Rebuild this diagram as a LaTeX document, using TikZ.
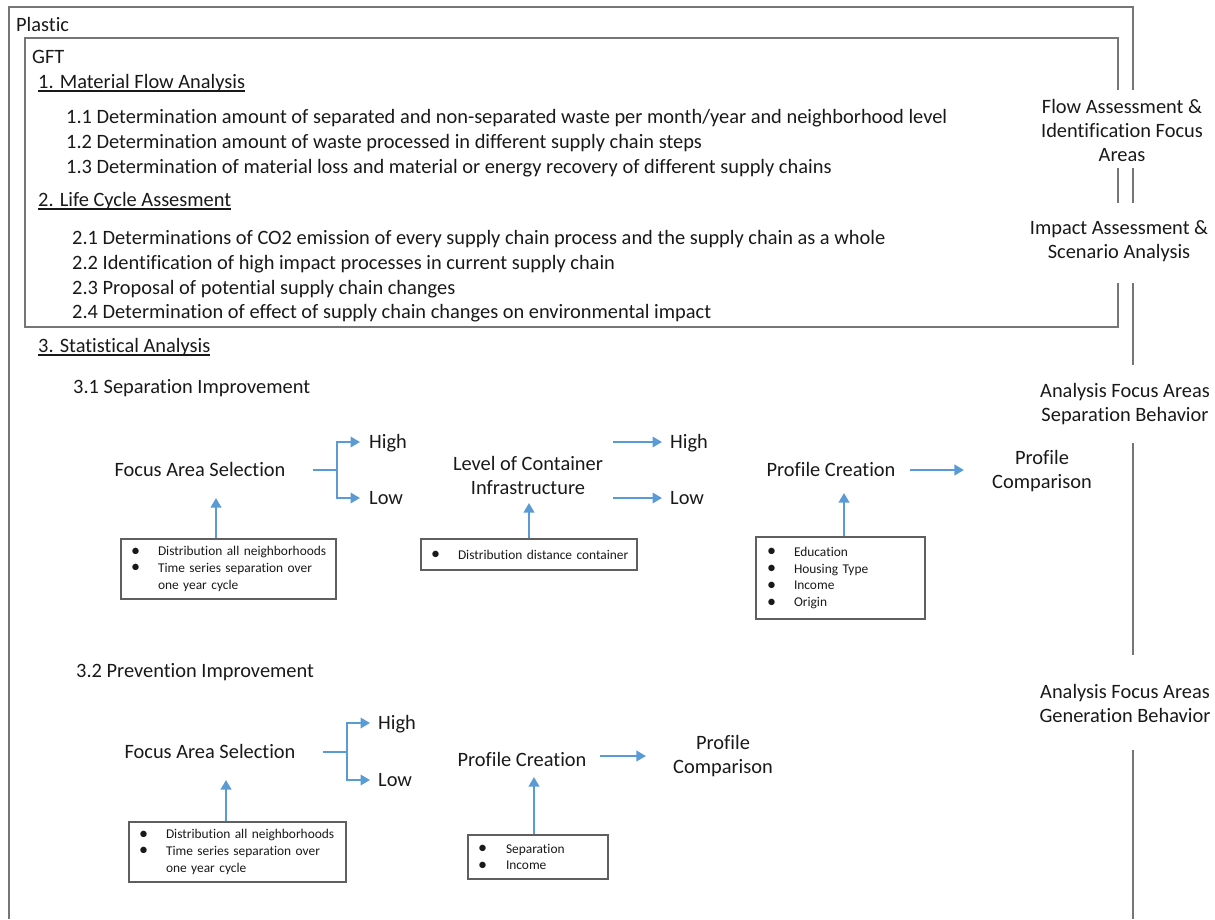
\documentclass[tikz,border=0pt]{standalone}
\usepackage{fontspec}
\setmainfont{Carlito}[Ligatures=NoCommon]
\usetikzlibrary{arrows.meta}
\definecolor{flowblue}{RGB}{91,155,213}
\definecolor{framegray}{RGB}{118,118,118}
\definecolor{boxgray}{RGB}{95,95,95}
\definecolor{ink}{RGB}{25,25,25}
% underline at a fixed depth below the baseline
\newcommand\ulinetext[1]{\setbox0\hbox{#1}\rlap{\rule[-3pt]{\wd0}{1.1pt}}\box0}
% one bulleted line, and its unbulleted continuation
\newcommand\bigbul{\raisebox{-0.3pt}{\scalebox{1.35}{\textbullet}}}
\newcommand\bul[1]{\mbox{\makebox[27pt][l]{\bigbul}#1}}
\newcommand\nobul[1]{\mbox{\hspace*{27pt}#1}}
\tikzset{
  txt/.style={inner sep=0pt, text=ink, font=\fontsize{20.4}{24}\selectfont, text height=13.1pt, text depth=0pt},
  lbl/.style={inner sep=0pt, text=ink, font=\fontsize{20.4}{24}\selectfont, align=center},
  infobox/.style={draw=boxgray, line width=1.2pt, inner xsep=10pt, inner ysep=0pt, align=left,
    text=ink, font=\fontsize{13.4}{16.8}\selectfont},
  flowarr/.style={draw=flowblue, line width=2pt, -{Triangle[length=9.5pt,width=10.5pt]}},
  flowline/.style={draw=flowblue, line width=2pt},
  frameline/.style={draw=framegray, line width=1.5pt},
}
\begin{document}
\begin{tikzpicture}[x=1pt,y=-1pt]
\useasboundingbox (0,0) rectangle (1215,919);

% nested frames (Plastic / GFT)
\draw[frameline] (1133,90) -- (1133,7) -- (9,7) -- (9,919);
\draw[frameline] (1133,168) -- (1133,203);
\draw[frameline] (1133,283) -- (1133,365);
\draw[frameline] (1133,443) -- (1133,655);
\draw[frameline] (1133,750) -- (1133,919);
\draw[frameline] (1118,90) -- (1118,38) -- (25,38) -- (25,327) -- (1118,327) -- (1118,283);
\draw[frameline] (1118,168) -- (1118,203);

% side labels
\node[lbl] (side1) at (1122,130) {Flow Assessment \&\\Identification Focus\\Areas};
\node[lbl] (side2) at (1119,241) {Impact Assessment \&\\Scenario Analysis};
\node[lbl] (side3) at (1125,404) {Analysis Focus Areas\\Separation Behavior};
\node[lbl] (side4) at (1125,703) {Analysis Focus Areas\\Generation Behavior};

% headings and steps
\node[txt, anchor=west] (plastic) at (16,25) {Plastic};
\node[txt, anchor=west] (gft) at (32,57) {GFT};
\node[txt, anchor=west] (mfa) at (38,82) {\ulinetext{1. Material Flow Analysis}};
\node[txt, anchor=west] (s11) at (66,117) {1.1 Determination amount of separated and non-separated waste per month/year and neighborhood level};
\node[txt, anchor=west] (s12) at (66,142) {1.2 Determination amount of waste processed in different supply chain steps};
\node[txt, anchor=west] (s13) at (66,167) {1.3 Determination of material loss and material or energy recovery of different supply chains};
\node[txt, anchor=west] (lca) at (38,200) {\ulinetext{2. Life Cycle Assesment}};
\node[txt, anchor=west] (s21) at (72,238) {2.1 Determinations of CO2 emission of every supply chain process and the supply chain as a whole};
\node[txt, anchor=west] (s22) at (72,263) {2.2 Identification of high impact processes in current supply chain};
\node[txt, anchor=west] (s23) at (72,288) {2.3 Proposal of potential supply chain changes};
\node[txt, anchor=west] (s24) at (72,312) {2.4 Determination of effect of supply chain changes on environmental impact};
\node[txt, anchor=west] (stat) at (38,346) {\ulinetext{3. Statistical Analysis}};
\node[txt, anchor=west] (s31) at (73,387) {3.1 Separation Improvement};
\node[txt, anchor=west] (s32) at (76,671) {3.2 Prevention Improvement};

% 3.1 separation improvement
\node[txt] (fa1) at (200,470) {Focus Area Selection};
\node[txt, anchor=west] (hi1) at (369,442) {High};
\node[txt, anchor=west] (lo1) at (369,498) {Low};
\node[lbl] (loc) at (528,475.5) {Level of Container\\Infrastructure};
\node[txt, anchor=west] (hi2) at (670,442) {High};
\node[txt, anchor=west] (lo2) at (670,498) {Low};
\node[txt] (pc1) at (831,470) {Profile Creation};
\node[lbl] (cmp1) at (1042,471.5) {Profile\\Comparison};

\node[infobox, text width=195pt, minimum height=60pt] (box1) at (228.5,569)
  {\bul{Distribution all neighborhoods}\\ \bul{Time series separation over}\\ \nobul{one year cycle}};
\node[infobox, text width=196pt, minimum height=31pt] (box2) at (529,554.5)
  {\bul{Distribution distance container}};
\node[infobox, inner xsep=11pt, text width=147pt, minimum height=82pt] (box3) at (840.5,578)
  {\bul{Education}\\ \bul{Housing Type}\\ \bul{Income}\\ \bul{Origin}};

\coordinate (br1) at (337,470);
\coordinate (t1) at (216,498);
\coordinate (t2) at (529,503);
\coordinate (t3) at (844,493);

\draw[flowline] ([xshift=27pt]fa1.east) -- (br1);
\draw[flowarr] (br1) |- ([xshift=-9pt]hi1.west);
\draw[flowarr] (br1) |- ([xshift=-9pt]lo1.west);
\draw[flowarr] ([xshift=10pt]loc.east |- hi2.west) -- ([xshift=-8pt]hi2.west);
\draw[flowarr] ([xshift=10pt]loc.east |- lo2.west) -- ([xshift=-8pt]lo2.west);
\draw[flowarr] ([xshift=14pt]pc1.east) -- ([xshift=-28pt]cmp1.west |- pc1.east);
\draw[flowarr] (box1.north -| t1) -- (t1);
\draw[flowarr] (box2.north -| t2) -- (t2);
\draw[flowarr] (box3.north -| t3) -- (t3);

% 3.2 prevention improvement
\node[txt] (fa2) at (210,752) {Focus Area Selection};
\node[txt, anchor=west] (hi3) at (378,723) {High};
\node[txt, anchor=west] (lo3) at (378,780) {Low};
\node[txt] (pc2) at (522,760) {Profile Creation};
\node[lbl] (cmp2) at (723,756) {Profile\\Comparison};

\node[infobox, text width=197pt, minimum height=60pt] (box4) at (237.5,852)
  {\bul{Distribution all neighborhoods}\\ \bul{Time series separation over}\\ \nobul{one year cycle}};
\node[infobox, text width=120pt, minimum height=44pt] (box5) at (538,857)
  {\mbox{\makebox[28pt][l]{\bigbul}Separation}\\ \mbox{\makebox[28pt][l]{\bigbul}Income}};

\coordinate (br2) at (347,752);
\coordinate (t4) at (226,780);
\coordinate (t5) at (534,777);

\draw[flowline] ([xshift=27pt]fa2.east) -- (br2);
\draw[flowarr] (br2) |- ([xshift=-8pt]hi3.west);
\draw[flowarr] (br2) |- ([xshift=-8pt]lo3.west);
\draw[flowarr] ([xshift=13pt]pc2.east |- cmp2.west) -- ([xshift=-27pt]cmp2.west);
\draw[flowarr] (box4.north -| t4) -- (t4);
\draw[flowarr] (box5.north -| t5) -- (t5);
\end{tikzpicture}
\end{document}
